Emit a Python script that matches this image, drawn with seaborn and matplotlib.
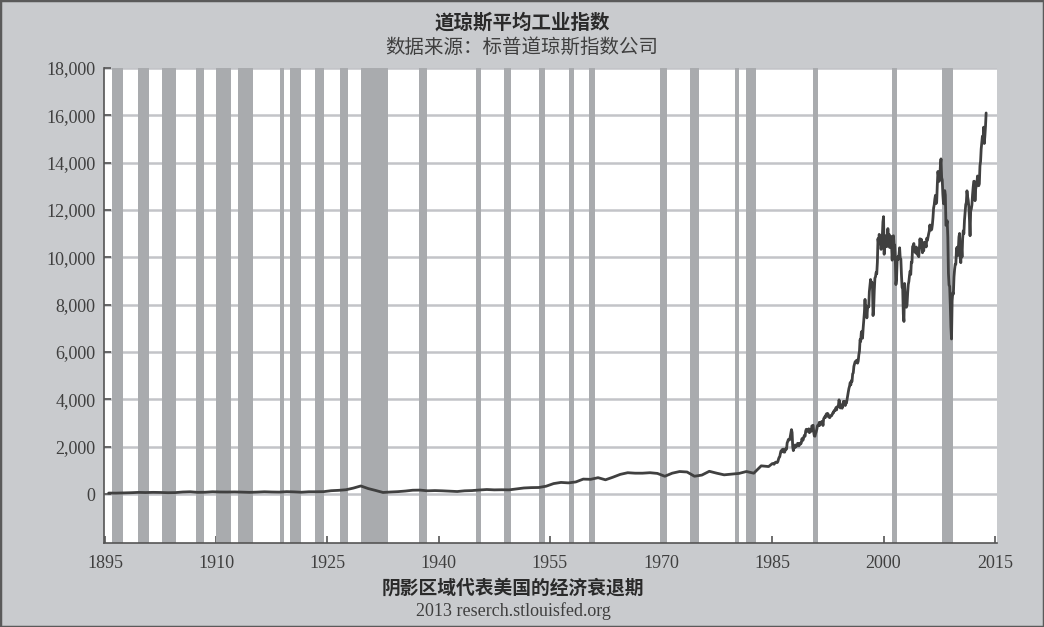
import numpy as np
import pandas as pd
import matplotlib
matplotlib.use("Agg")
import matplotlib.pyplot as plt
from matplotlib.patches import Rectangle
import seaborn as sns

# ---------------- data ----------------
title = "道琼斯平均工业指数"
subtitle = "数据来源：标普道琼斯指数公司"
note = "阴影区域代表美国的经济衰退期"
source = "2013 reserch.stlouisfed.org"

early_years = list(range(1895, 1985))
early_close = [
    40, 38, 45, 55, 68, 62, 70, 65, 55, 60,
    85, 95, 70, 75, 95, 85, 83, 88, 80, 70,
    80, 95, 85, 80, 100, 90, 75, 95, 95, 100,
    140, 155, 180, 250, 340, 230, 150, 65, 85, 100,
    125, 160, 165, 135, 145, 135, 120, 105, 135, 145,
    170, 190, 175, 180, 175, 215, 255, 270, 275, 330,
    440, 490, 470, 510, 630, 620, 690, 600, 710, 830,
    900, 880, 880, 900, 870, 750, 880, 950, 930, 750,
    800, 960, 880, 810, 840, 870, 950, 880, 1190, 1160,
]

late_start_year = 1985
late_close = [
    # 1985
    1287, 1284, 1267, 1258, 1315, 1336, 1348, 1334, 1329, 1374, 1472, 1547,
    # 1986
    1571, 1710, 1819, 1784, 1877, 1893, 1775, 1898, 1768, 1878, 1914, 1896,
    # 1987
    2158, 2224, 2305, 2286, 2292, 2419, 2572, 2720, 2596, 1994, 1834, 1939,
    # 1988
    1958, 2072, 1988, 2032, 2031, 2142, 2129, 2032, 2113, 2149, 2115, 2169,
    # 1989
    2342, 2258, 2294, 2419, 2480, 2440, 2661, 2737, 2693, 2645, 2706, 2753,
    # 1990
    2591, 2628, 2707, 2657, 2877, 2881, 2905, 2614, 2453, 2442, 2560, 2634,
    # 1991
    2736, 2882, 2914, 2888, 3028, 2907, 3025, 3044, 3017, 3069, 2895, 3169,
    # 1992
    3224, 3268, 3236, 3359, 3397, 3319, 3394, 3257, 3272, 3226, 3305, 3301,
    # 1993
    3310, 3371, 3435, 3428, 3527, 3516, 3540, 3651, 3555, 3681, 3684, 3754,
    # 1994
    3978, 3832, 3636, 3682, 3758, 3625, 3765, 3913, 3843, 3908, 3739, 3834,
    # 1995
    3844, 4011, 4158, 4321, 4465, 4556, 4708, 4611, 4789, 4756, 5075, 5117,
    # 1996
    5395, 5486, 5587, 5569, 5643, 5655, 5529, 5616, 5882, 6029, 6522, 6448,
    # 1997
    6813, 6878, 6584, 7009, 7331, 7673, 8223, 7622, 7945, 7442, 7823, 7908,
    # 1998
    7907, 8546, 8800, 9063, 8900, 8952, 8883, 7539, 7843, 8592, 9117, 9181,
    # 1999
    9359, 9307, 9786, 10789, 10560, 10971, 10655, 10829, 10337, 10730, 10878, 11497,
    # 2000
    11720, 10128, 10922, 10734, 10522, 10448, 10522, 11215, 10651, 10971, 10415, 10788,
    # 2001
    10887, 10495, 9879, 10735, 10912, 10502, 10523, 9950, 8848, 9075, 9852, 10022,
    # 2002
    9920, 10106, 10404, 9946, 9925, 9243, 8737, 8664, 7592, 7290, 8896, 8342,
    # 2003
    8054, 7891, 7992, 8480, 8850, 8985, 9234, 9416, 9275, 9801, 9782, 10454,
    # 2004
    10488, 10584, 10358, 10226, 10188, 10435, 10140, 10174, 10080, 10027, 10428, 10783,
    # 2005
    10490, 10766, 10504, 10193, 10467, 10275, 10641, 10482, 10569, 10440, 10806, 10718,
    # 2006
    10865, 10993, 11109, 11367, 11168, 11150, 11186, 11381, 11679, 12081, 12222, 12463,
    # 2007
    12622, 12269, 12354, 13063, 13628, 13409, 13212, 13358, 13896, 14160, 13372, 13265,
    # 2008
    12650, 12266, 12263, 12820, 12638, 11350, 11378, 11544, 10851, 9325, 8829, 8776,
    # 2009
    8001, 7063, 6550, 8168, 8500, 8447, 9172, 9496, 9712, 9713, 10345, 10428,
    # 2010
    10067, 10325, 10857, 11009, 10137, 9774, 10466, 10015, 10788, 11118, 11006, 11578,
    # 2011
    11892, 12226, 12320, 12811, 12570, 12414, 12143, 11614, 10913, 11955, 12046, 12218,
    # 2012
    12633, 12952, 13212, 13214, 12393, 12880, 13009, 13091, 13437, 13096, 13026, 13104,
    # 2013
    13861, 14054, 14579, 14840, 15116, 14910, 15500, 14810, 15130, 15546, 16100,
]

rec_start = ["1895-12", "1899-06", "1902-09", "1907-05", "1910-01", "1913-01",
             "1918-08", "1920-01", "1923-05", "1926-10", "1929-08", "1937-05",
             "1945-02", "1948-11", "1953-07", "1957-08", "1960-04", "1969-12",
             "1973-11", "1980-01", "1981-07", "1990-07", "2001-03", "2007-12"]
rec_end = ["1897-06", "1900-12", "1904-08", "1908-06", "1912-01", "1914-12",
           "1919-03", "1921-07", "1924-07", "1927-11", "1933-03", "1938-06",
           "1945-10", "1949-10", "1954-05", "1958-04", "1961-02", "1970-11",
           "1975-03", "1980-07", "1982-11", "1991-03", "2001-11", "2009-06"]

x_ticks = [1895, 1910, 1925, 1940, 1955, 1970, 1985, 2000, 2015]
y_ticks = [0, 2000, 4000, 6000, 8000, 10000, 12000, 14000, 16000, 18000]
y_labels = ["0", "2,000", "4,000", "6,000", "8,000", "10,000", "12,000",
            "14,000", "16,000", "18,000"]


def to_dec(s):
    y, m = s.split("-")
    return int(y) + (int(m) - 1) / 12.0


early_x = [y + 0.5 for y in early_years]
late_x = [late_start_year + i / 12.0 for i in range(len(late_close))]
df = pd.DataFrame({"year": early_x + late_x, "close": early_close + late_close})

# ---------------- style ----------------
sns.set_theme(style="white")
plt.rcParams["font.family"] = ["Liberation Serif", "DejaVu Serif"]

BG = "#c9cbce"
BAR = "#a9abae"
GRID = "#c3c4c8"
TXT = "#3f3f3f"
LINE = "#404040"

fig = plt.figure(figsize=(10.44, 6.27), dpi=100, facecolor=BG)
ax = fig.add_axes([104 / 1044, 1 - 543 / 627, (997 - 104) / 1044, (543 - 68) / 627])
ax.set_facecolor("white")

for s, e in zip(rec_start, rec_end):
    ax.axvspan(to_dec(s), to_dec(e), color=BAR, lw=0, zorder=1)

sns.lineplot(data=df, x="year", y="close", ax=ax, color=LINE, lw=2.0,
             zorder=3, estimator=None)

ax.set_xlim(1894.87, 2015.3)
ax.set_ylim(-2070, 18000)
ax.set_xticks(x_ticks)
ax.set_xticklabels([str(t) for t in x_ticks])
ax.set_yticks(y_ticks)
ax.set_yticklabels(y_labels)
ax.yaxis.grid(True, color=GRID, lw=1.8, zorder=0)
ax.xaxis.grid(False)
ax.set_axisbelow(True)
ax.set_xlabel("")
ax.set_ylabel("")

for side in ["top", "right"]:
    ax.spines[side].set_visible(False)
for side in ["left", "bottom"]:
    ax.spines[side].set_color("#555555")
    ax.spines[side].set_linewidth(1.2)
    ax.spines[side].set_zorder(4)

ax.tick_params(axis="both", direction="in", length=5, width=1.2,
               color="#555555", labelsize=13, labelcolor=TXT)
ax.tick_params(axis="x", pad=9, bottom=True)
ax.tick_params(axis="y", pad=6, left=True)

cjk = ["Noto Sans CJK SC", "DejaVu Sans"]
fig.text(0.5, 1 - 23 / 627, title, ha="center", va="center", fontsize=14,
         fontweight="bold", family=cjk, color="#2a2a2a")
fig.text(0.5, 1 - 47 / 627, subtitle, ha="center", va="center", fontsize=14,
         family=cjk, color=TXT)
fig.text(513 / 1044, 1 - 588 / 627, note, ha="center", va="center", fontsize=13.5,
         fontweight="bold", family=cjk, color="#2a2a2a")
fig.text(513 / 1044, 1 - 611 / 627, source, ha="center", va="center", fontsize=13,
         family=["Liberation Serif", "DejaVu Serif"], color=TXT)

fig.patches.append(Rectangle((0, 0), 1, 1, transform=fig.transFigure, fill=False,
                             edgecolor="#5a5a5a", lw=2.5, zorder=10))

fig.savefig("out.png", dpi=100, facecolor=BG)
